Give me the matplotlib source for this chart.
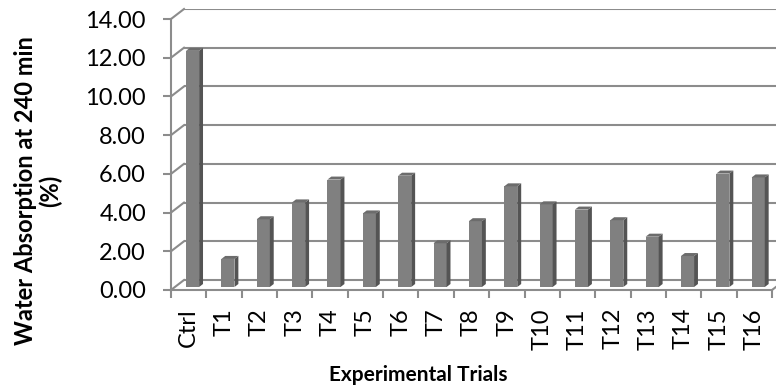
import matplotlib
matplotlib.use("Agg")
import matplotlib.pyplot as plt
from matplotlib.patches import Polygon
import numpy as np

# Water absorption after 240 min for each trial (%)
trials = ["Ctrl", "T1", "T2", "T3", "T4", "T5", "T6", "T7", "T8",
          "T9", "T10", "T11", "T12", "T13", "T14", "T15", "T16"]
absorption = [12.2, 1.45, 3.5, 4.37, 5.55, 3.8, 5.75, 2.26, 3.4,
              5.2, 4.27, 4.0, 3.45, 2.6, 1.6, 5.86, 5.66]
y_ticks = [0, 2, 4, 6, 8, 10, 12, 14]

FONT = "Lato"
W, H = 776, 388
DPI = 100

fig = plt.figure(figsize=(W / DPI, H / DPI), dpi=DPI)

# axes box in pixels: front-left corner of plot floor at (171, 290)
left_px, right_px = 171, 776
bottom_px, top_px = 290, 9
px_per_cat = (772 - 171) / 17.0
px_per_val = (290 - 19) / 14.0
ax = fig.add_axes([left_px / W, (H - bottom_px) / H,
                   (right_px - left_px) / W, (bottom_px - top_px) / H])
ax.set_xlim(-0.5, -0.5 + (right_px - left_px) / px_per_cat)
ax.set_ylim(0, (bottom_px - top_px) / px_per_val)
ax.patch.set_visible(False)

# 3D depth offset (back wall relative to front plane), data units
Dx = 13 / px_per_cat
Dy = 10 / px_per_val

grid_c = "#8c8c8c"
lw = 1.5
n = len(trials)
x = np.arange(n)
x_end = n - 0.5

# back wall gridlines and left wall diagonals
for v in y_ticks:
    ax.plot([-0.5 + Dx, x_end + Dx], [v + Dy, v + Dy], color=grid_c, lw=lw,
            solid_capstyle="butt", zorder=1)
    ax.plot([-0.5, -0.5 + Dx], [v, v + Dy], color=grid_c, lw=lw,
            clip_on=False, zorder=1)
# floor right edge
ax.plot([x_end, x_end + Dx], [0, Dy], color=grid_c, lw=lw, clip_on=False, zorder=1)

# columns: front face, side face, top face
f0, f1 = 0.3, 0.6
bw = 0.37
front_c, side_c, top_c = "#808080", "#545454", "#6c6c6c"
xf = x - bw / 2 + f0 * Dx
b0 = f0 * Dy
ddx, ddy = (f1 - f0) * Dx, (f1 - f0) * Dy
ax.bar(xf, absorption, width=bw, bottom=b0, align="edge", color=front_c,
       edgecolor="none", zorder=3)
for xi, v in zip(xf, absorption):
    x1 = xi + bw
    side = Polygon([(x1, b0), (x1, v + b0), (x1 + ddx, v + b0 + ddy),
                    (x1 + ddx, b0 + ddy)], closed=True, facecolor=side_c,
                   edgecolor="none", zorder=3)
    top = Polygon([(xi, v + b0), (x1, v + b0), (x1 + ddx, v + b0 + ddy),
                   (xi + ddx, v + b0 + ddy)], closed=True, facecolor=top_c,
                  edgecolor="none", zorder=3)
    ax.add_patch(side)
    ax.add_patch(top)

# spines as front edges
for s in ("top", "right"):
    ax.spines[s].set_visible(False)
ax.spines["left"].set_bounds(0, 14)
ax.spines["bottom"].set_bounds(-0.5, x_end)
for s in ("left", "bottom"):
    ax.spines[s].set_color(grid_c)
    ax.spines[s].set_linewidth(lw)
    ax.spines[s].set_zorder(4)

ax.set_yticks(y_ticks)
ax.set_yticklabels([f"{v:.2f}" for v in y_ticks])
ax.tick_params(axis="y", direction="out", length=6, width=lw, color=grid_c,
               pad=12, labelsize=17, labelcolor="#000000")
for t in ax.get_yticklabels():
    t.set_fontfamily(FONT)

ax.set_xticks(x)
ax.set_xticklabels(trials, rotation=90, fontsize=17, fontfamily=FONT)
ax.set_xticks(np.arange(-0.5, n, 1.0), minor=True)
ax.tick_params(axis="x", which="major", length=0, pad=13)
ax.tick_params(axis="x", which="minor", direction="out", length=6, width=lw,
               color=grid_c)
for t in ax.get_xticklabels():
    t.set_verticalalignment("top")

fig.text(38 / W, 1 - 191 / H, "Water Absorption at 240 min\n(%)", rotation=90,
         ha="center", va="center", multialignment="center", fontsize=17,
         fontweight="bold", fontfamily=FONT, linespacing=1.1)
fig.text(418 / W, 1 - 375 / H, "Experimental Trials", ha="center", va="center",
         fontsize=15, fontweight="bold", fontfamily=FONT)

fig.savefig("out.png", dpi=DPI)
